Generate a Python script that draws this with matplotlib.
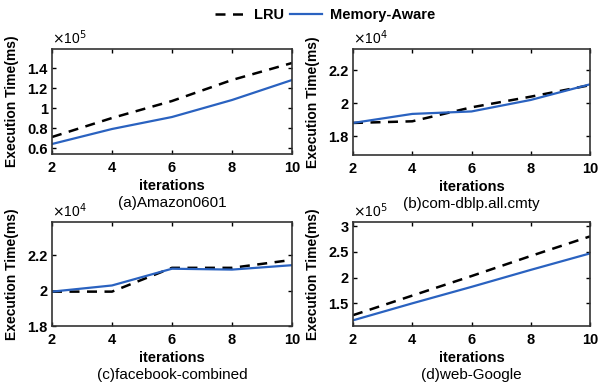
#!/usr/bin/env python
"""
Execution time vs. iterations, LRU vs Memory-Aware, four datasets.
"""

import matplotlib.pyplot as plt
from matplotlib.lines import Line2D

plt.rcParams["font.family"] = ["Liberation Sans", "DejaVu Sans"]

iterations = [2, 4, 6, 8, 10]

# execution time (ms)
amazon_lru = [0.71e5, 0.90e5, 1.07e5, 1.28e5, 1.45e5]
amazon_mem = [0.64e5, 0.79e5, 0.91e5, 1.08e5, 1.28e5]

dblp_lru = [1.88e4, 1.89e4, 1.975e4, 2.04e4, 2.11e4]
dblp_mem = [1.88e4, 1.935e4, 1.95e4, 2.02e4, 2.115e4]

facebook_lru = [1.995e4, 1.995e4, 2.13e4, 2.13e4, 2.175e4]
facebook_mem = [1.995e4, 2.03e4, 2.125e4, 2.12e4, 2.145e4]

google_lru = [1.27e5, 1.65e5, 2.03e5, 2.42e5, 2.80e5]
google_mem = [1.17e5, 1.50e5, 1.82e5, 2.15e5, 2.47e5]

panels = [
    ("(a)Amazon0601", amazon_lru, amazon_mem, 5, (0.54, 1.59), [0.6, 0.8, 1.0, 1.2, 1.4]),
    ("(b)com-dblp.all.cmty", dblp_lru, dblp_mem, 4, (1.685, 2.33), [1.8, 2.0, 2.2]),
    ("(c)facebook-combined", facebook_lru, facebook_mem, 4, (1.8, 2.39), [1.8, 2.0, 2.2]),
    ("(d)web-Google", google_lru, google_mem, 5, (1.06, 3.08), [1.5, 2.0, 2.5, 3.0]),
]

W, H = 599, 385
fig = plt.figure(figsize=(W / 100, H / 100), dpi=100)

blue = "#2a62c0"
# (left, top, right, bottom) in pixels
boxes = [(52, 49, 292, 154), (353, 49, 590, 155), (52, 222, 292, 326), (353, 222, 590, 326)]

for (title, lru, mem, exp, ylim, yticks), (l, t, r, b) in zip(panels, boxes):
    ax = fig.add_axes([l / W, 1 - b / H, (r - l) / W, (b - t) / H])
    scale = 10 ** exp
    ax.plot(iterations, [v / scale for v in lru], color="black", ls=(0, (4, 3)), lw=1.8)
    ax.plot(iterations, [v / scale for v in mem], color=blue, lw=1.6)
    ax.set_xlim(2, 10)
    ax.set_ylim(*ylim)
    ax.set_xticks(iterations)
    ax.set_yticks(yticks)
    ax.set_yticklabels(["%g" % v for v in yticks])
    ax.tick_params(direction="in", top=True, right=True, length=3, width=1,
                   labelsize=10.5)
    ax.tick_params(axis="x", pad=5)
    ax.tick_params(axis="y", pad=3)
    for lab in ax.get_xticklabels() + ax.get_yticklabels():
        lab.set_fontweight("bold")
    for sp in ax.spines.values():
        sp.set_linewidth(1.2)
        sp.set_color("#333333")
    ax.set_xlabel("iterations", fontsize=10.5, fontweight="bold", labelpad=3)
    ax.set_ylabel("Execution Time(ms)", fontsize=10, fontweight="bold", labelpad=6)
    ax.text(0.0, 1.02, r"$\times$10$^{%d}$" % exp, transform=ax.transAxes,
            fontsize=10, ha="left", va="bottom")
    fig.text((l + r) / 2 / W, 1 - (b + 49) / H, title, fontsize=11,
             ha="center", va="center")

handles = [
    Line2D([], [], color="black", ls=(0, (4, 3)), lw=1.8),
    Line2D([], [], color=blue, lw=1.6),
]
fig.legend(handles, ["LRU", "Memory-Aware"], loc="center", ncol=2,
           bbox_to_anchor=(325 / W, 1 - 15 / H), frameon=False,
           prop={"weight": "bold", "size": 10.5}, handlelength=2.2,
           handletextpad=0.5, columnspacing=0.4)

fig.savefig("out.png", dpi=100)
